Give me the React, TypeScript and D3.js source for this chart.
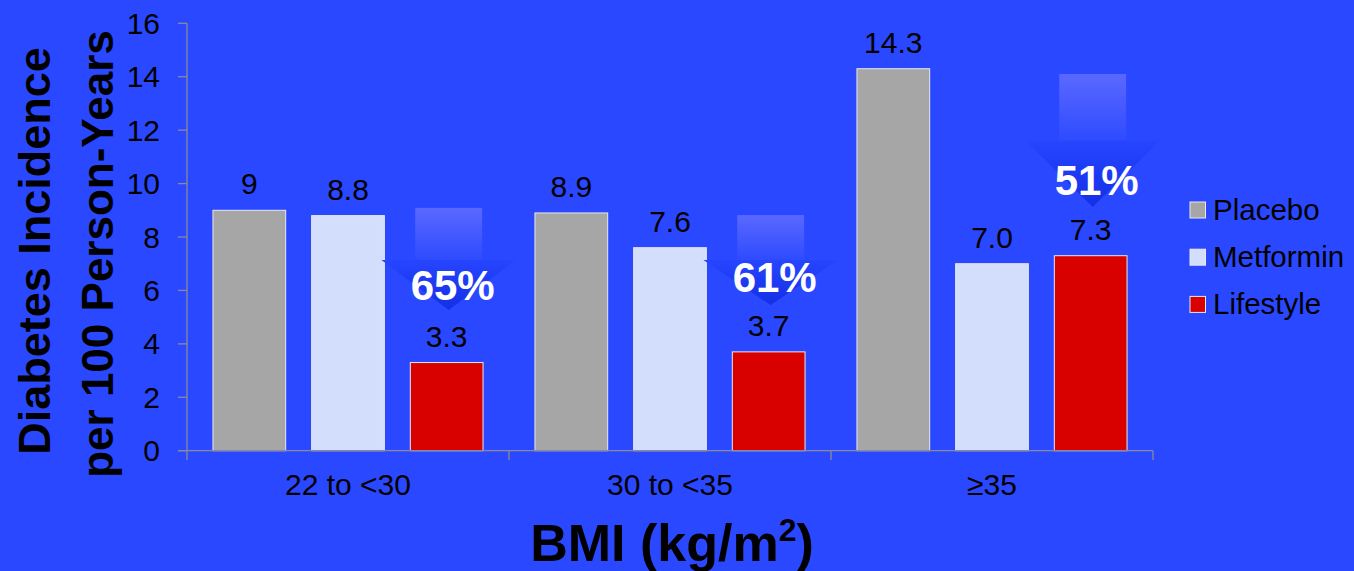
import React from "react";
import * as d3 from "d3";

const categories = ["22 to <30", "30 to <35", "≥35"];
const seriesNames = ["Placebo", "Metformin", "Lifestyle"];
const placebo = [9, 8.9, 14.3];
const metformin = [8.8, 7.6, 7.0];
const lifestyle = [3.3, 3.7, 7.3];
const placeboLabels = ["9", "8.9", "14.3"];
const metforminLabels = ["8.8", "7.6", "7.0"];
const lifestyleLabels = ["3.3", "3.7", "7.3"];
const yTicks = [0, 2, 4, 6, 8, 10, 12, 14, 16];
const reductionLabels = ["65%", "61%", "51%"];
// arrow annotation extents in data units (top of shaft, shaft end, tip)
const arrowTop = [9.09, 8.82, 14.1];
const arrowNeck = [7.14, 7.14, 11.6];
const arrowTip = [5.27, 5.45, 9.12];
const reductionTextY = [5.64, 5.94, 9.57];

const colors = ["#a6a6a6", "#d3ddfc", "#d90000"];
const BG = "#2a48ff";

export default function App() {
  const W = 1354, H = 571;
  const x0 = 187, x1 = 1153, yTop = 23.3, yBot = 450.7;
  const x = d3.scaleBand<string>().domain(categories).range([x0, x1]).padding(0);
  const xs = d3.scaleBand<string>().domain(seriesNames).range([0, x.bandwidth()]).paddingInner(0.263).paddingOuter(0.263);
  const y = d3.scaleLinear().domain([0, 16]).range([yBot, yTop]);
  const values = [placebo, metformin, lifestyle];
  const labels = [placeboLabels, metforminLabels, lifestyleLabels];
  const font = "Liberation Sans, Arial, Helvetica, sans-serif";
  const bw = xs.bandwidth();

  return (
    <svg width={W} height={H} style={{ position: "absolute", left: 0, top: 0, display: "block" }} fontFamily={font}>
      <defs>
        <linearGradient id="shaft" x1="0" y1="0" x2="0" y2="1">
          <stop offset="0" stopColor="#5a68ff" />
          <stop offset="1" stopColor="#2e4bff" />
        </linearGradient>
        <linearGradient id="head" x1="0" y1="0" x2="0" y2="1">
          <stop offset="0" stopColor="#2744ff" />
          <stop offset="1" stopColor="#1330e6" />
        </linearGradient>
      </defs>
      <rect x={0} y={0} width={W} height={H} fill={BG} />

      {/* bars */}
      {categories.map((c, ci) => (
        <g key={c} transform={`translate(${x(c)},0)`}>
          {seriesNames.map((s, si) => (
            <g key={s}>
              <rect
                x={xs(s)}
                y={y(values[si][ci])}
                width={bw}
                height={yBot - y(values[si][ci])}
                fill={colors[si]}
                stroke="#e8e8ee"
                strokeWidth={1}
              />
              <text
                x={(xs(s) as number) + bw / 2}
                y={y(values[si][ci]) - 16}
                textAnchor="middle"
                fontSize={30}
                fill="#000"
              >
                {labels[si][ci]}
              </text>
            </g>
          ))}
        </g>
      ))}

      {/* axes */}
      <line x1={x0} x2={x0} y1={yTop} y2={460} stroke="#8a8a9a" strokeWidth={1.3} />
      <line x1={178} x2={x1} y1={yBot} y2={yBot} stroke="#8a8a9a" strokeWidth={1.3} />
      {yTicks.map((t) => (
        <g key={t}>
          <line x1={178} x2={x0} y1={y(t)} y2={y(t)} stroke="#8a8a9a" strokeWidth={1.3} />
          <text x={160} y={y(t) + 10.5} textAnchor="end" fontSize={30} fill="#000">
            {t}
          </text>
        </g>
      ))}
      {categories.map((c) => (
        <line key={c} x1={(x(c) as number) + x.bandwidth()} x2={(x(c) as number) + x.bandwidth()} y1={yBot} y2={460} stroke="#8a8a9a" strokeWidth={1.3} />
      ))}
      {categories.map((c) => (
        <text key={c} x={(x(c) as number) + x.bandwidth() / 2} y={495} textAnchor="middle" fontSize={30} fill="#000">
          {c}
        </text>
      ))}

      {/* arrows */}
      {categories.map((c, ci) => {
        const cx = (x(c) as number) + (xs("Lifestyle") as number) + bw / 2 + 2;
        const sw = bw * 0.92;
        const hw = bw * 1.85;
        const top = y(arrowTop[ci]);
        const neck = y(arrowNeck[ci]);
        const tip = y(arrowTip[ci]);
        return (
          <g key={"a" + c}>
            <rect x={cx - sw / 2} y={top} width={sw} height={neck - top} fill="url(#shaft)" />
            <path d={`M${cx - hw / 2},${neck} L${cx + hw / 2},${neck} L${cx},${tip} Z`} fill="url(#head)" />
            <text x={cx + 4} y={y(reductionTextY[ci])} textAnchor="middle" fontSize={42} fontWeight="bold" fill="#fff">
              {reductionLabels[ci]}
            </text>
          </g>
        );
      })}

      {/* legend */}
      {seriesNames.map((s, i) => (
        <g key={s} transform={`translate(1190,${210 + i * 47.2})`}>
          <rect x={0} y={-8} width={15.5} height={16} fill={colors[i]} stroke="#e8e8ee" strokeWidth={1} />
          <text x={23} y={9.5} fontSize={29.5} fill="#000">
            {s}
          </text>
        </g>
      ))}

      {/* axis titles */}
      <g transform="translate(50,251) rotate(-90)">
        <text x={0} y={0} textAnchor="middle" fontSize={45} fontWeight="bold" fill="#000">
          Diabetes Incidence
        </text>
      </g>
      <g transform="translate(113,254) rotate(-90)">
        <text x={0} y={0} textAnchor="middle" fontSize={44} fontWeight="bold" fill="#000">
          per 100 Person-Years
        </text>
      </g>
      <text x={672} y={561} textAnchor="middle" fontSize={52} fontWeight="bold" fill="#000">
        BMI (kg/m<tspan fontSize={32} dy={-20}>2</tspan>
        <tspan dy={20}>)</tspan>
      </text>
    </svg>
  );
}
